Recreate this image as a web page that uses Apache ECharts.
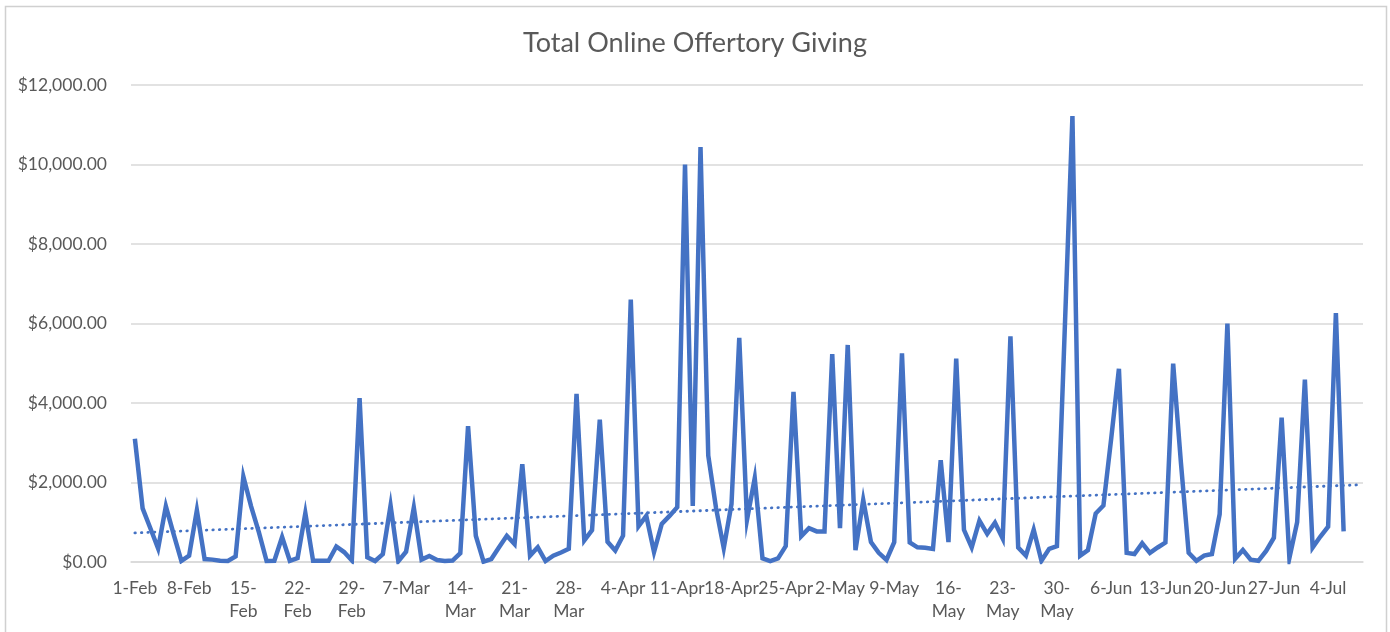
<!DOCTYPE html>
<html>
<head>
<meta charset="utf-8">
<script src="https://cdn.jsdelivr.net/npm/echarts@6/dist/echarts.min.js"></script>
<style>
  html, body { margin: 0; padding: 0; background: #ffffff; }
  #chart { width: 1390px; height: 632px; }
</style>
</head>
<body>
<div id="chart"></div>
<script>
//----------------------Data----------------------
let giving_values = [
    3100, 1350, 850, 340, 1400, 700, 30, 160, 1300, 75,
    60, 30, 25, 140, 2150, 1400, 750, 25, 30, 630,
    30, 100, 1230, 30, 30, 30, 390, 250, 40, 4120,
    120, 25, 200, 1420, 20, 260, 1370, 60, 150, 50,
    25, 35, 220, 3420, 660, 10, 75, 370, 660, 450,
    2460, 160, 370, 25, 160, 240, 330, 4230, 540, 800,
    3580, 510, 290, 660, 6600, 900, 1160, 250, 960, 1160,
    1380, 10000, 1410, 10440, 2680, 1360, 350, 1460, 5640, 1060,
    2110, 90, 20, 90, 400, 4280, 650, 850, 770, 770,
    5230, 850, 5460, 300, 1560, 500, 230, 50, 500, 5250,
    490, 370, 360, 330, 2560, 500, 5120, 810, 365, 1040,
    710, 990, 590, 5680, 365, 160, 810, 30, 330, 400,
    5800, 11220, 160, 300, 1220, 1420, 3100, 4860, 230, 200,
    470, 230, 365, 490, 4990, 2500, 230, 30, 160, 200,
    1200, 6000, 80, 300, 60, 30, 280, 610, 3630, 100,
    1000, 4590, 365, 640, 890, 6260, 770
];
// labels shown under every 7th day (Excel wraps some of them)
let tick_labels = [
    '1-Feb', '8-Feb', '15-\nFeb', '22-\nFeb', '29-\nFeb', '7-Mar',
    '14-\nMar', '21-\nMar', '28-\nMar', '4-Apr', '11-Apr', '18-Apr',
    '25-Apr', '2-May', '9-May', '16-\nMay', '23-\nMay', '30-\nMay',
    '6-Jun', '13-Jun', '20-Jun', '27-Jun', '4-Jul'
];
let day_count = 159;   // axis runs two empty days past the last value
let y_ticks = [0, 2000, 4000, 6000, 8000, 10000, 12000];

//--------------------Categories------------------
let month_names = ['Jan', 'Feb', 'Mar', 'Apr', 'May', 'Jun', 'Jul', 'Aug'];
let day_categories = [];
for (let d = 0; d < day_count; d++) {
    let dt = new Date(2020, 1, 1 + d);
    day_categories.push(dt.getDate() + '-' + month_names[dt.getMonth()]);
}
let series_values = day_categories.map(function (c, i) {
    return i < giving_values.length ? giving_values[i] : null;
});

//---------------------Trend line---------------------
// least squares fit over the days that have a value, drawn across the whole axis
function linear_trend(values, n) {
    let sx = 0, sy = 0, sxx = 0, sxy = 0, cnt = 0;
    for (let i = 0; i < values.length; i++) {
        sx += i; sy += values[i]; sxx += i * i; sxy += i * values[i]; cnt++;
    }
    let slope = (cnt * sxy - sx * sy) / (cnt * sxx - sx * sx);
    let icept = (sy - slope * sx) / cnt;
    let out = [];
    for (let i = 0; i < n; i++) out.push(icept + slope * i);
    return out;
}
let trend_values = linear_trend(giving_values, day_count);

//----------------------Chart----------------------
let text_color = '#595959';
let line_color = '#4472C4';
let grid_color = '#d9d9d9';
let chart = echarts.init(document.getElementById('chart'));

let option = {
    backgroundColor: '#ffffff',
    animation: false,
    title: {
        text: 'Total Online Offertory Giving',
        left: 'center',
        top: 25,
        textStyle: { fontFamily: 'Lato', fontSize: 27, fontWeight: 'normal', color: text_color }
    },
    graphic: [{
        type: 'rect',
        shape: { x: 5.5, y: 6.5, width: 1381, height: 640 },
        style: { fill: 'none', stroke: '#d0d0d0', lineWidth: 1.5 },
        silent: true
    }],
    grid: { left: 131, right: 27, top: 85, bottom: 70 },
    xAxis: {
        type: 'category',
        data: day_categories,
        boundaryGap: true,
        axisLine: { lineStyle: { color: grid_color, width: 1.5 } },
        axisTick: { interval: 6, length: 6, lineStyle: { color: grid_color, width: 1.5 } },
        axisLabel: {
            interval: 6,
            margin: 15,
            color: text_color,
            fontFamily: 'Lato',
            fontSize: 17.5,
            lineHeight: 23,
            formatter: function (val, idx) {
                return idx % 7 === 0 ? tick_labels[idx / 7] : '';
            }
        }
    },
    yAxis: {
        type: 'value',
        min: y_ticks[0],
        max: y_ticks[y_ticks.length - 1],
        interval: y_ticks[1] - y_ticks[0],
        axisLine: { show: false },
        axisTick: { show: false },
        splitLine: { lineStyle: { color: grid_color, width: 1.5 } },
        axisLabel: {
            margin: 24,
            color: text_color,
            fontFamily: 'Lato',
            fontSize: 17.5,
            formatter: function (v) {
                return '$' + v.toLocaleString('en-US', { minimumFractionDigits: 2, maximumFractionDigits: 2 });
            }
        }
    },
    series: [
        {
            name: 'Giving',
            type: 'line',
            data: series_values,
            showSymbol: false,
            symbol: 'none',
            lineStyle: { color: line_color, width: 4.5, join: 'miter' },
            z: 3
        },
        {
            name: 'Trend',
            type: 'line',
            data: trend_values,
            showSymbol: false,
            symbol: 'none',
            lineStyle: { color: line_color, width: 2.8, type: [0.5, 6], cap: 'round' },
            z: 2
        }
    ]
};
chart.setOption(option);
</script>
</body>
</html>
